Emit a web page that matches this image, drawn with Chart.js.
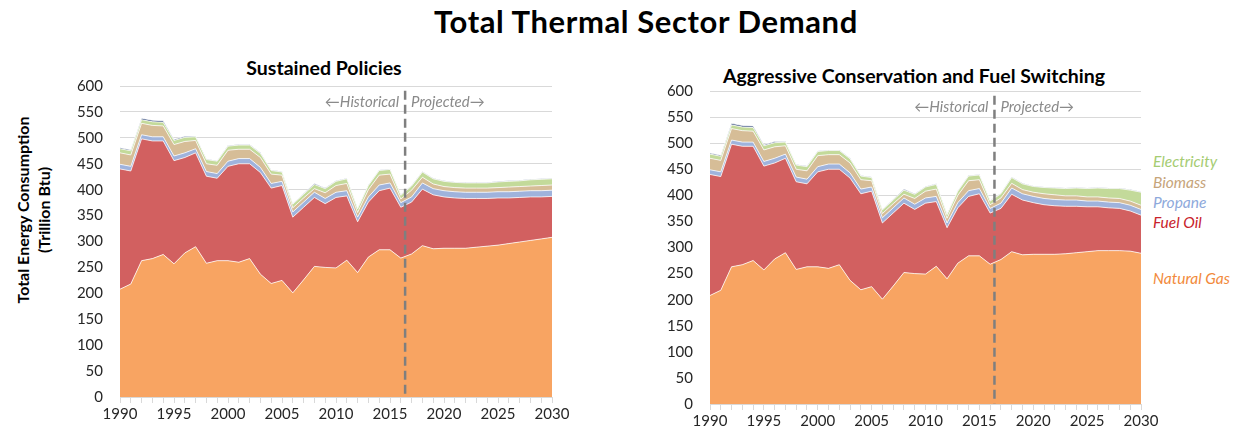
<!DOCTYPE html>
<html>
<head>
<meta charset="utf-8">
<script src="https://cdn.jsdelivr.net/npm/chart.js@4.4.0/dist/chart.umd.min.js"></script>
<style>
  body { margin: 0; width: 1241px; height: 436px; background: #fff; position: relative; overflow: hidden; font-family: Lato, "Open Sans", sans-serif; }
  .txt { position: absolute; white-space: nowrap; }
  #mainTitle { left: 46px; width: 1200px; top: 2px; text-align: center; font-size: 31px; font-weight: bold; letter-spacing: 0.6px; color: #000; }
  .sub { font-size: 19.5px; font-weight: bold; color: #000; text-align: center; }
  .leg { font-size: 15.5px; font-style: italic; left: 1153px; line-height: 18px; }
  #yTitle { left: -87.5px; top: 189px; width: 240px; height: 42px; line-height: 21px; text-align: center;
            font-size: 16px; font-weight: bold; color: #000; transform: rotate(-90deg); }
  canvas { position: absolute; }
</style>
</head>
<body>
<div id="mainTitle" class="txt">Total Thermal Sector Demand</div>
<div class="txt sub" style="left:174px; width:300px; top:56px;">Sustained Policies</div>
<div class="txt sub" style="left:714px; width:400px; top:64px;">Aggressive Conservation and Fuel Switching</div>
<div id="yTitle" class="txt">Total Energy Consumption<br>(Trillion Btu)</div>

<div class="txt leg" style="top:152px; color:#a5cc72;">Electricity</div>
<div class="txt leg" style="top:173px; color:#c6a47a;">Biomass</div>
<div class="txt leg" style="top:193px; color:#8ea9db;">Propane</div>
<div class="txt leg" style="top:213px; color:#c8232c;">Fuel Oil</div>
<div class="txt leg" style="top:269px; color:#f28a3c;">Natural Gas</div>

<canvas id="chartSP" width="575" height="376" style="left:0; top:60px;"></canvas>
<canvas id="chartAC" width="580" height="376" style="left:600px; top:60px;"></canvas>

<script>
// ==========================================
// DATA (Trillion Btu)
// ==========================================
const years = [1990,1991,1992,1993,1994,1995,1996,1997,1998,1999,2000,2001,2002,2003,2004,2005,2006,2007,2008,2009,2010,
               2011,2012,2013,2014,2015,2016,2017,2018,2019,2020,2021,2022,2023,2024,2025,2026,2027,2028,2029,2030];
const yTicks = [0,50,100,150,200,250,300,350,400,450,500,550,600];
const splitYear = 2016.4; // garis Historical | Projected

// Sustained Policies
const gasSP         = [208,218,263,267,275,257,278,290,258,263,263,260,267,237,219,225,201,226,252,250,249,264,240,270,284,284,268,276,292,286,287,287,287,289,291,293,296,299,302,305,308];
const fuelOilSP     = [232,218,235,227,219,199,184,181,168,159,182,190,183,196,184,183,146,140,133,123,136,124,98,106,114,119,98,100,109,104,99,97,96,94,92,91,88,86,84,81,79];
const propaneSP     = [9,9,8,8,8,9,9,8,9,9,10,10,10,10,9,8,10,10,10,10,10,10,9,10,11,10,9,10,12,12,12,12,12,12,12,12,12,12,12,12,12];
const biomassSP     = [22,22,22,22,21,22,22,16,15,16,21,18,18,19,18,12,8,8,7,11,13,14,9,14,19,17,7,13,11,9,8,8,8,8,8,8,9,9,9,10,10];
const electricitySP = [8,8,7,7,7,8,8,7,8,8,8,8,8,8,7,6,7,7,8,8,8,9,7,8,9,9,7,8,10,10,10,10,10,10,10,11,11,11,12,12,12];
const otherSP       = [2,2,3,3,3,2,2,1,1,1,1,1,1,1,1,1,1,1,2,1,1,1,1,1,1,1,1,1,1,1,1,1,1,1,1,1,1,1,1,1,1];

// Aggressive Conservation and Fuel Switching
const gasAC         = [208,218,263,267,275,257,278,290,258,263,263,260,267,237,219,225,201,226,252,250,249,264,240,270,284,284,268,277,292,286,287,287,287,288,290,292,294,294,294,293,289];
const fuelOilAC     = [232,218,235,227,219,199,184,181,168,159,182,190,183,196,184,183,146,140,133,123,136,124,98,106,114,119,98,98,110,105,99,95,93,91,89,86,84,82,81,77,73];
const propaneAC     = [9,9,8,8,8,9,9,8,9,9,10,10,10,10,9,8,10,10,10,10,10,10,9,10,11,10,9,10,12,12,12,12,12,12,12,11,11,11,11,11,11];
const biomassAC     = [22,22,22,22,21,22,22,16,15,16,21,18,18,19,18,12,8,8,7,11,13,14,9,14,19,17,7,10,9,8,8,9,9,8,8,8,8,8,8,8,8];
const electricityAC = [8,8,7,7,7,8,8,7,8,8,8,8,8,8,7,6,7,7,8,8,8,9,7,8,9,9,7,8,11,11,11,12,13,14,15,16,17,18,19,21,25];
const otherAC       = [2,2,3,3,3,2,2,1,1,1,1,1,1,1,1,1,1,1,2,1,1,1,1,1,1,1,1,1,1,1,1,1,1,1,1,1,1,1,1,1,1];

// Warna lapisan (bawah -> atas)
const layerNames  = ['Natural Gas', 'Fuel Oil', 'Propane', 'Biomass', 'Electricity', 'Other'];
const layerColors = ['#f8a462', '#d26060', '#9fb3dc', '#d6bd97', '#c3da9a', '#4a5e8c'];

// ==========================================
// PLUGIN: garis putus-putus + teks Historical / Projected
// ==========================================
const splitPlugin = {
    id: 'splitLine',
    afterDatasetsDraw(chart) {
        const { ctx, scales: { x, y } } = chart;
        const px = x.getPixelForValue(splitYear);
        ctx.save();
        ctx.strokeStyle = '#7f7f7f';
        ctx.lineWidth = 2.5;
        ctx.setLineDash([9, 5]);
        ctx.beginPath();
        ctx.moveTo(px, y.getPixelForValue(591));
        ctx.lineTo(px, y.getPixelForValue(0));
        ctx.stroke();
        ctx.setLineDash([]);
        ctx.fillStyle = '#8a8a8a';
        ctx.font = 'italic 15px Lato, sans-serif';
        ctx.textBaseline = 'middle';
        const ty = y.getPixelForValue(569);
        ctx.textAlign = 'right';
        ctx.fillText('\u2190Historical', px - 6, ty);
        ctx.textAlign = 'left';
        ctx.fillText('Projected\u2192', px + 6, ty);
        ctx.restore();
    }
};

function makeChart(canvasId, series, cfg) {
    const ctx = document.getElementById(canvasId).getContext('2d');
    const datasets = series.map((vals, i) => ({
        label: layerNames[i],
        data: years.map((yr, k) => ({ x: yr, y: vals[k] })),
        backgroundColor: layerColors[i],
        borderColor: 'rgba(255,255,255,0.75)',
        borderWidth: 1,
        pointRadius: 0,
        tension: 0,
        fill: i === 0 ? 'origin' : '-1'
    }));

    return new Chart(ctx, {
        type: 'line',
        data: { datasets },
        plugins: [splitPlugin],
        options: {
            responsive: false,
            animation: false,
            layout: { padding: { top: cfg.padTop, right: cfg.padRight, bottom: 0, left: 0 } },
            plugins: { legend: { display: false }, tooltip: { enabled: false } },
            scales: {
                x: {
                    type: 'linear',
                    min: years[0],
                    max: years[years.length - 1],
                    afterFit: s => { s.height = cfg.xHeight; },
                    grid: { drawOnChartArea: false, drawTicks: true, tickLength: 6, color: '#d9d9d9' },
                    border: { display: true, color: '#d9d9d9' },
                    ticks: {
                        stepSize: 1,
                        autoSkip: false,
                        maxRotation: 0,
                        padding: 2,
                        color: '#262626',
                        font: { family: 'Lato', size: 15 },
                        callback: v => (v % 5 === 0 ? String(v) : '')
                    }
                },
                y: {
                    stacked: true,
                    min: yTicks[0],
                    max: yTicks[yTicks.length - 1],
                    afterFit: s => { s.width = cfg.yWidth; },
                    afterBuildTicks: s => { s.ticks = yTicks.map(v => ({ value: v })); },
                    grid: { color: '#d9d9d9', drawTicks: false },
                    border: { display: false },
                    ticks: { padding: 17, color: '#262626', font: { family: 'Lato', size: 15 } }
                }
            }
        }
    });
}

makeChart('chartSP',
    [gasSP, fuelOilSP, propaneSP, biomassSP, electricitySP, otherSP],
    { padTop: 23, padRight: 23, xHeight: 39, yWidth: 120 });

makeChart('chartAC',
    [gasAC, fuelOilAC, propaneAC, biomassAC, electricityAC, otherAC],
    { padTop: 31, padRight: 39, xHeight: 32, yWidth: 110 });
</script>
</body>
</html>
